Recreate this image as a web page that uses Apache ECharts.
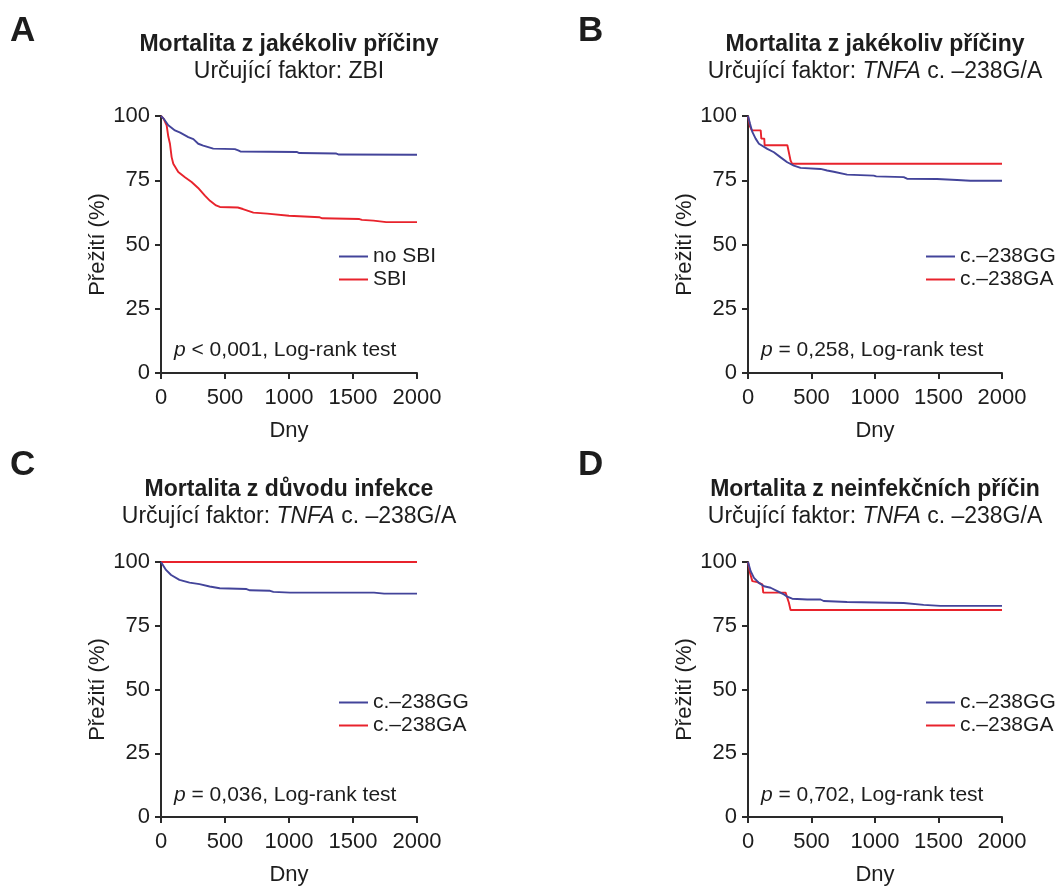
<!DOCTYPE html>
<html>
<head>
<meta charset="utf-8">
<title>Přežití – Kaplan–Meier</title>
<script src="https://cdn.jsdelivr.net/npm/echarts@6/dist/echarts.min.js"></script>
<style>
  html, body { margin: 0; padding: 0; background: #fff; }
  #chart { width: 1056px; height: 887px; }
</style>
</head>
<body>
<div id="chart"></div>
<script>
// Kaplan–Meier survival curves: [day, survival %]
const survA_noSBI = [[0,100],[20,99],[57,96.4],[109,94.4],[150,93.5],[213,91.8],[253,91],[291,89.2],[330,88.5],[369,87.9],[408,87.3],[577,87.1],[603,86.6],[620,86.2],[1060,86.0],[1080,85.6],[1370,85.4],[1390,85.0],[2000,84.9]];
const survA_SBI = [[0,100],[20,99],[44,96.4],[57,92],[70,89.2],[83,84],[96,81.4],[135,78.2],[187,76.2],[239,74.3],[290,72],[343,69],[383,67],[430,65.2],[460,64.6],[600,64.4],[640,63.8],[722,62.4],[830,62],[1000,61.2],[1010,60.8],[1240,60.6],[1260,60.2],[1550,59.9],[1570,59.6],[1660,59.3],[1760,58.7],[2000,58.7]];

const survB_GG = [[0,100],[16,97],[34,93.8],[60,91.2],[86,89.2],[152,87.2],[204,85.9],[257,83.9],[309,82],[361,80.7],[414,79.8],[571,79.4],[623,78.8],[675,78.3],[780,77.2],[990,76.8],[1010,76.5],[1226,76.2],[1252,75.6],[1488,75.5],[1646,75.1],[1751,74.8],[2000,74.8]];
const survB_GA = [[0,100],[8,100],[15,96],[30,94.4],[100,94.4],[105,91.2],[128,91.2],[131,88.6],[310,88.6],[335,82.7],[348,81.4],[2000,81.4]];

const survC_GG = [[0,100],[39,96.9],[79,94.9],[144,93],[223,91.9],[301,91.3],[380,90.4],[459,89.7],[668,89.4],[695,88.9],[852,88.7],[878,88.3],[1009,88],[1664,88],[1743,87.6],[2000,87.6]];
const survC_GA = [[0,100],[2000,100]];

const survD_GG = [[0,100],[21,96.4],[47,93.8],[86,91.8],[126,90.5],[178,89.9],[231,88.6],[283,87.3],[309,86.4],[348,85.6],[466,85.3],[571,85.3],[596,84.7],[780,84.3],[1226,83.9],[1383,83.2],[1515,82.8],[2000,82.8]];
const survD_GA = [[0,100],[8,100],[16,95.7],[34,92.5],[73,92.1],[113,91.2],[120,88],[296,88],[322,84],[335,81.2],[2000,81.2]];

const panelLetters = ['A', 'B', 'C', 'D'];
const panelTitles = ['Mortalita z jakékoliv příčiny', 'Mortalita z jakékoliv příčiny', 'Mortalita z důvodu infekce', 'Mortalita z neinfekčních příčin'];
const panelSubtitles = ['Určující faktor: ZBI', 'Určující faktor: {i|TNFA} c. –238G/A', 'Určující faktor: {i|TNFA} c. –238G/A', 'Určující faktor: {i|TNFA} c. –238G/A'];
const pValues = ['< 0,001', '= 0,258', '= 0,036', '= 0,702'];
const legendNames = [['no SBI', 'SBI'], ['c.–238GG', 'c.–238GA'], ['c.–238GG', 'c.–238GA'], ['c.–238GG', 'c.–238GA']];
const curves = [[survA_noSBI, survA_SBI], [survB_GG, survB_GA], [survC_GG, survC_GA], [survD_GG, survD_GA]];

const xTicks = { min: 0, max: 2000, interval: 500 };
const yTicks = { min: 0, max: 100, interval: 25 };

const FONT = '"Liberation Sans", Arial, sans-serif';
const BLUE = '#43449a';
const RED = '#e8232c';
const INK = '#1d1d1d';

// Plot-area geometry for the 2x2 layout
const grids = [
  { left: 161, top: 116, width: 256, height: 257 },
  { left: 748, top: 116, width: 254, height: 257 },
  { left: 161, top: 562, width: 256, height: 256 },
  { left: 748, top: 562, width: 254, height: 256 }
];

const axisLine = { show: true, onZero: false, lineStyle: { color: '#2a2a2a', width: 2 } };
const axisTick = { show: true, inside: false, length: 6, lineStyle: { color: '#2a2a2a', width: 2 } };
const labelStyle = { fontFamily: FONT, fontSize: 22, color: INK, formatter: v => String(v) };

const option = {
  backgroundColor: '#ffffff',
  animation: false,
  grid: grids.map(g => Object.assign({ containLabel: false }, g)),
  xAxis: grids.map((g, i) => ({
    type: 'value', gridIndex: i,
    min: xTicks.min, max: xTicks.max, interval: xTicks.interval,
    axisLine, axisTick,
    splitLine: { show: false },
    axisLabel: Object.assign({ margin: 14, showMaxLabel: true, showMinLabel: true }, labelStyle),
    name: 'Dny', nameLocation: 'middle', nameGap: 47,
    nameTextStyle: { fontFamily: FONT, fontSize: 22, color: INK }
  })),
  yAxis: grids.map((g, i) => ({
    type: 'value', gridIndex: i,
    min: yTicks.min, max: yTicks.max, interval: yTicks.interval,
    axisLine, axisTick,
    splitLine: { show: false },
    axisLabel: Object.assign({ margin: 11, showMaxLabel: true }, labelStyle),
    name: 'Přežití (%)', nameLocation: 'middle', nameGap: 50,
    nameTextStyle: { fontFamily: FONT, fontSize: 22, color: INK }
  })),
  legend: grids.map((g, i) => ({
    orient: 'vertical',
    left: g.left + 173,
    top: g.top + 125,
    itemWidth: 29, itemHeight: 2, itemGap: 2,
    icon: 'rect',
    selectedMode: false,
    data: legendNames[i],
    textStyle: { fontFamily: FONT, fontSize: 21, color: INK, lineHeight: 21, padding: [0, 0, 0, 0] }
  })),
  series: [],
  graphic: []
};

curves.forEach((pair, i) => {
  pair.forEach((data, k) => {
    option.series.push({
      type: 'line',
      name: legendNames[i][k],
      xAxisIndex: i, yAxisIndex: i,
      data: data,
      showSymbol: false, symbol: 'none',
      color: k === 0 ? BLUE : RED,
      lineStyle: { width: 1.9, color: k === 0 ? BLUE : RED },
      z: k === 0 ? 3 : 2
    });
  });
});

const textBase = { fontFamily: FONT, fill: INK };
grids.forEach((g, i) => {
  const cx = g.left + g.width / 2;
  const letterX = i % 2 === 0 ? 10 : 578;
  const rowTop = i < 2 ? 0 : 445;
  const letterTop = i < 2 ? 14 : 448;
  option.graphic.push(
    { type: 'text', left: letterX, top: letterTop,
      style: Object.assign({ text: panelLetters[i], fontSize: 35, fontWeight: 'bold' }, textBase) },
    { type: 'text', x: cx, y: rowTop + 45,
      style: Object.assign({ text: panelTitles[i], fontSize: 23, fontWeight: 'bold',
        align: 'center', verticalAlign: 'middle', textAlign: 'center', textVerticalAlign: 'middle' }, textBase) },
    { type: 'text', x: cx, y: rowTop + 72,
      style: Object.assign({ text: panelSubtitles[i], fontSize: 23,
        align: 'center', verticalAlign: 'middle', textAlign: 'center', textVerticalAlign: 'middle',
        rich: { i: { fontStyle: 'italic', fontSize: 23, fontFamily: FONT, fill: INK } } }, textBase) },
    { type: 'text', x: g.left + 13, y: g.top + g.height - 23,
      style: Object.assign({ text: '{i|p} ' + pValues[i] + ', Log-rank test', fontSize: 21,
        align: 'left', verticalAlign: 'middle', textAlign: 'left', textVerticalAlign: 'middle',
        rich: { i: { fontStyle: 'italic', fontSize: 21, fontFamily: FONT, fill: INK } } }, textBase) }
  );
});

const chart = echarts.init(document.getElementById('chart'), null, { renderer: 'canvas' });
chart.setOption(option);
</script>
</body>
</html>
